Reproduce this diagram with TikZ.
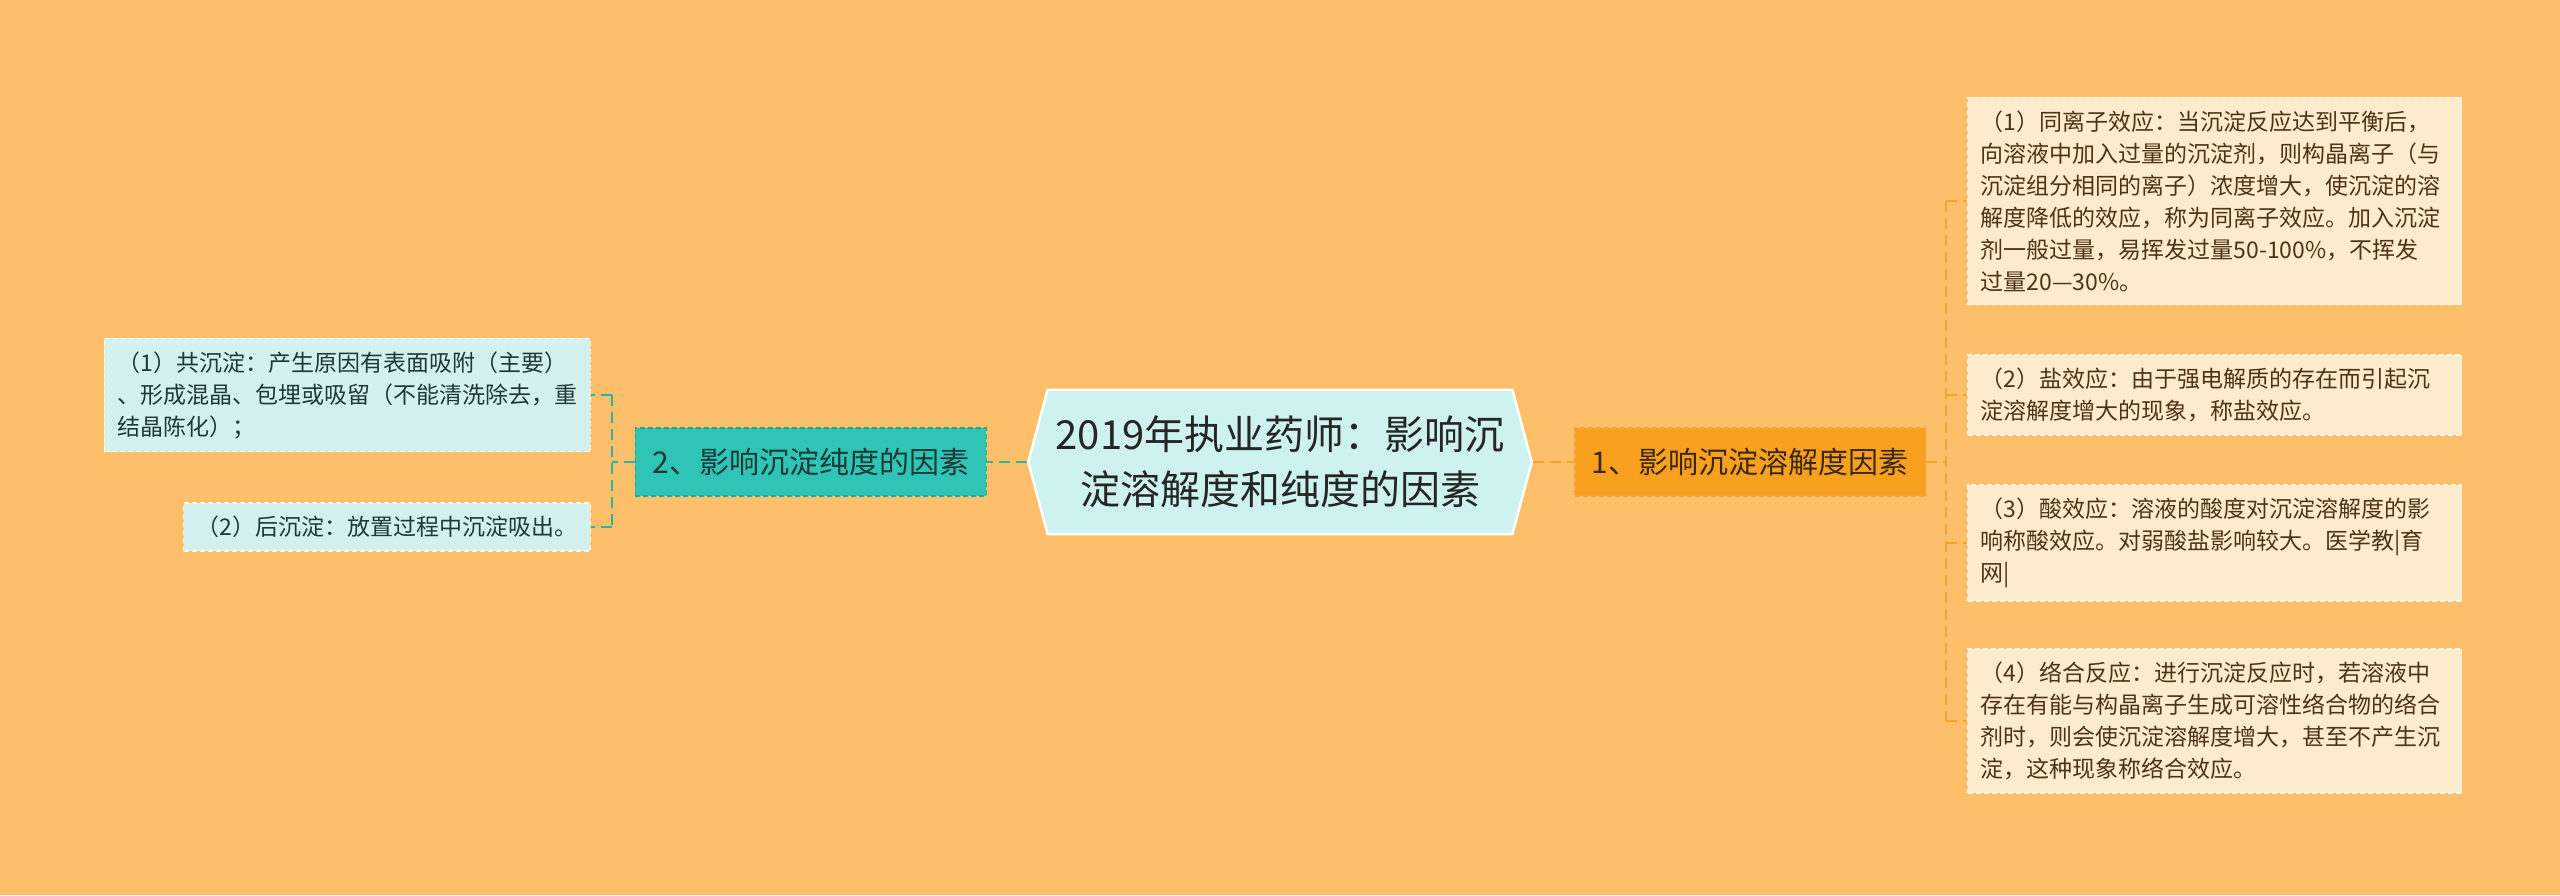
\documentclass[tikz,border=0pt]{standalone}
\usepackage{fontspec}
\setmainfont{Noto Sans CJK SC}
\usetikzlibrary{positioning,shapes.symbols}

\definecolor{bgorange}{HTML}{FEBF6B}
\definecolor{rootfill}{HTML}{CDF2EF}
\definecolor{roottext}{HTML}{262626}
\definecolor{onefill}{HTML}{F9A11E}
\definecolor{onedraw}{HTML}{F0A540}
\definecolor{onetext}{HTML}{3B2A12}
\definecolor{twofill}{HTML}{2EC4B6}
\definecolor{twodraw}{HTML}{29A99C}
\definecolor{twotext}{HTML}{1C3A37}
\definecolor{rleaffill}{HTML}{FEEBCD}
\definecolor{rleaftext}{HTML}{4E3414}
\definecolor{lleaffill}{HTML}{D3F1EE}
\definecolor{lleaftext}{HTML}{1E3A37}
\definecolor{oneline}{HTML}{F5A133}
\definecolor{twoline}{HTML}{2DB3A6}

\tikzset{
  root/.style={signal, signal to=west and east, signal pointer angle=150,
    fill=rootfill, draw=white, line width=2.5pt, text=roottext,
    align=center, inner xsep=8pt, inner ysep=26pt,
    font=\fontsize{40}{55}\selectfont},
  branch/.style={draw, dashed, line width=1.2pt, dash pattern=on 5pt off 3pt,
    minimum height=68pt, minimum width=351pt, inner xsep=14pt,
    font=\fontsize{30}{36}\selectfont},
  leaf/.style={draw=white!85!bgorange, line width=1.2pt, dash pattern=on 5pt off 3pt,
    align=left, inner xsep=13pt, inner ysep=13pt,
    font=\fontsize{23}{32}\selectfont},
  rleaf/.style={leaf, fill=rleaffill, text=rleaftext, anchor=west, text width=468pt},
  lleaf/.style={leaf, fill=lleaffill, text=lleaftext, anchor=east},
  link/.style={line width=2pt, dash pattern=on 11pt off 6pt},
}

\begin{document}
\begin{tikzpicture}[x=1pt, y=-1pt]
	\useasboundingbox[fill=bgorange] (0,0) rectangle (2560,895);

	\node[root] (root) at (1280,462) {2019年执业药师：影响沉\\淀溶解度和纯度的因素};
	\node[branch, right=41pt of root, fill=onefill, draw=onedraw, text=onetext] (solub) {1、影响沉淀溶解度因素};
	\node[branch, left=40pt of root, fill=twofill, draw=twodraw, text=twotext] (purity) {2、影响沉淀纯度的因素};

	\node[rleaf] (r1) at (1967,201) {（1）同离子效应：当沉淀反应达到平衡后，\\向溶液中加入过量的沉淀剂，则构晶离子（与\\沉淀组分相同的离子）浓度增大，使沉淀的溶\\解度降低的效应，称为同离子效应。加入沉淀\\剂一般过量，易挥发过量50-100\%，不挥发\\过量20—30\%。};
	\node[rleaf] (r2) at (1967,395) {（2）盐效应：由于强电解质的存在而引起沉\\淀溶解度增大的现象，称盐效应。};
	\node[rleaf] (r3) at (1967,543) {（3）酸效应：溶液的酸度对沉淀溶解度的影\\响称酸效应。对弱酸盐影响较大。医学教|育\\网|};
	\node[rleaf] (r4) at (1967,721) {（4）络合反应：进行沉淀反应时，若溶液中\\存在有能与构晶离子生成可溶性络合物的络合\\剂时，则会使沉淀溶解度增大，甚至不产生沉\\淀，这种现象称络合效应。};

	\node[lleaf] (l1) at (591,395) {（1）共沉淀：产生原因有表面吸附（主要）\\、形成混晶、包埋或吸留（不能清洗除去，重\\结晶陈化）；};
	\node[lleaf] (l2) at (591,527) {（2）后沉淀：放置过程中沉淀吸出。};

	\coordinate (busR) at (1946,462);
	\coordinate (busL) at (612,462);

	\draw[link, oneline] (root.east) -- (solub.west);
	\draw[link, oneline] (solub.east) -- (busR);
	\draw[link, oneline] (busR |- r1.west) -- (busR |- r4.west);
	\foreach \r in {r1,r2,r3,r4}
		\draw[link, oneline] (busR |- \r.west) -- (\r.west);

	\draw[link, twoline] (root.west) -- (purity.east);
	\draw[link, twoline] (purity.west) -- (busL);
	\draw[link, twoline] (busL |- l1.east) -- (busL |- l2.east);
	\foreach \l in {l1,l2}
		\draw[link, twoline] (busL |- \l.east) -- (\l.east);
\end{tikzpicture}
\end{document}
